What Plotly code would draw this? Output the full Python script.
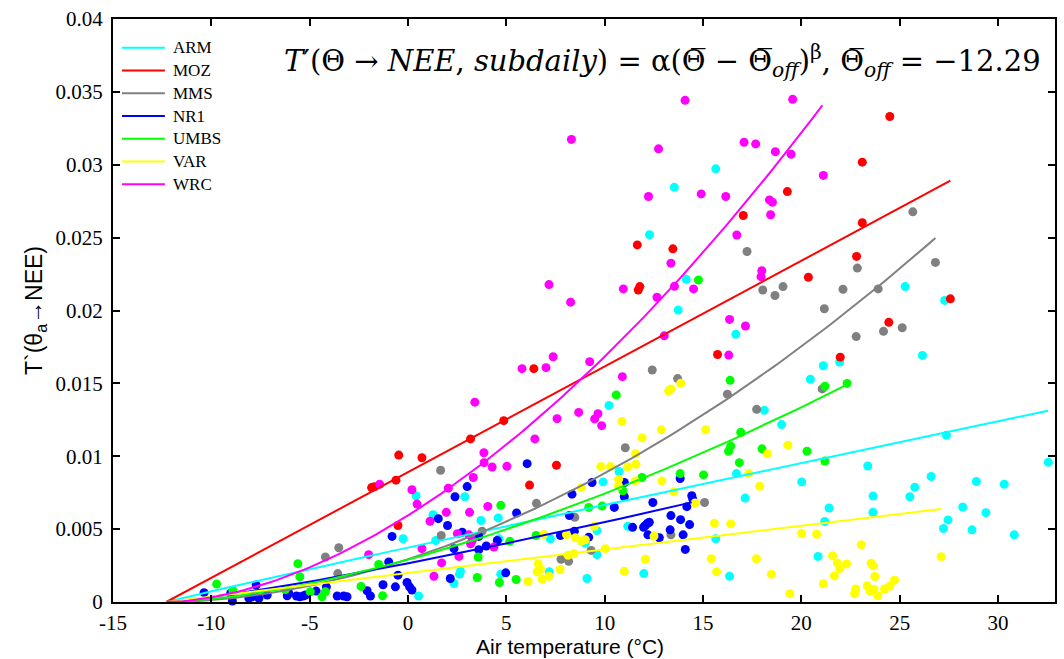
import numpy as np
import plotly.graph_objects as go

# ---------------- data ----------------
sites = ["ARM", "MOZ", "MMS", "NR1", "UMBS", "VAR", "WRC"]
colors = {"ARM": "#00FFFF", "MOZ": "#FF0000", "MMS": "#808080", "NR1": "#0000FF",
          "UMBS": "#00FF00", "VAR": "#FFFF00", "WRC": "#FF00FF"}

theta_off = -12.29

# fitted parameters T' = alpha * (theta - theta_off) ** beta, and upper temperature of each fit
alpha = {"ARM": 3.28e-4, "MOZ": 7.25e-4, "MMS": 2.83e-5, "NR1": 1.242e-4,
         "UMBS": 5.515e-5, "VAR": 1.619e-4, "WRC": 7.36e-5}
beta = {"ARM": 0.97, "MOZ": 1.0, "MMS": 1.85, "NR1": 1.22,
        "UMBS": 1.58, "VAR": 1.0, "WRC": 1.75}
t_max = {"ARM": 32.54, "MOZ": 27.58, "MMS": 26.82, "NR1": 14.43,
         "UMBS": 22.35, "VAR": 27.12, "WRC": 21.07}

# observed (air temperature, T') pairs per site
arm_t = [13.54, 12.28, 14.15, 13.74, 15.65, 25.28, 27.29, 16.67, 26.16, 21.95, 21.12, 20.46,
         18.12, 19.0, 27.38, 32.56, 23.38, 26.6, 28.9, 30.32, 25.77, 25.52, 23.65, 20.02,
         17.14, 21.41, 23.64, 28.21, 29.39, 27.46, 27.23, 28.68, 21.19, 30.83, 20.85,
         10.22, 10.73, 16.7, 9.92, 2.89, 3.71, 4.59, 1.27, 11.18, 15.65, 16.35, 9.61, 9.02,
         9.61, 7.19, 9.1, 11.99, 4.72, 2.67, 2.62, 2.34, 1.41, 4.62, 7.24, 0.41, -0.25, 0.54]
arm_v = [0.02845, 0.0252, 0.02214, 0.02003, 0.02972, 0.02164, 0.02069, 0.01837, 0.01692, 0.01646,
         0.01621, 0.01528, 0.01315, 0.01217, 0.01144, 0.00958, 0.00933, 0.00861, 0.00827, 0.00808,
         0.00788, 0.00722, 0.00727, 0.00824, 0.00713, 0.00645, 0.00615, 0.00652, 0.00613, 0.00563,
         0.00504, 0.00495, 0.00552, 0.00461, 0.00313,
         0.01349, 0.00895, 0.00881, 0.00824, 0.00722, 0.00559, 0.00577, 0.00599, 0.0052, 0.00434,
         0.00177, 0.0049, 0.00404, 0.00325, 0.00207, 0.00161, 0.00195, 0.00191, 0.00211, 0.00191,
         0.00127, 0.00422, 0.00434, 0.00434, 0.00729, 0.00434, 0.00041]

moz_t = [11.66, 13.47, 11.79, 11.71, 6.40, 24.50, 23.10, 19.29, 17.05, 23.10, 22.81, 20.36,
         27.58, 24.45, 15.74, 21.98, 4.87, 3.18, 7.55, 6.18, -0.47, 0.71, -0.61, -1.71, -1.85, -0.51]
moz_v = [0.0245, 0.02423, 0.02164, 0.02141, 0.01601, 0.03331, 0.03018, 0.02816, 0.02652, 0.02602,
         0.02371, 0.02228, 0.0208, 0.01919, 0.01698, 0.0168, 0.01244, 0.01119, 0.00938, 0.00802,
         0.01008, 0.0099, 0.00836, 0.0079, 0.00785, 0.00525]

mms_t = [12.42, 13.71, 17.24, 25.67, 26.82, 22.85, 18.04, 18.66, 19.07, 22.12, 23.91, 21.17,
         24.18, 25.13, 22.79, 17.73, 21.06, 16.24, 11.05, 1.66, 6.53, 15.08, 13.37, 9.31, 8.48,
         7.78, 8.17, 1.69, 3.77, -3.52, -4.2, -3.57]
mms_v = [0.01592, 0.01533, 0.02405, 0.02677, 0.0233, 0.02291, 0.02141, 0.02103, 0.02164, 0.02146,
         0.02148, 0.02012, 0.01857, 0.01882, 0.01821, 0.01322, 0.01462, 0.01426, 0.01058, 0.00904,
         0.00677, 0.00683, 0.00461, 0.00354, 0.00581, 0.00293, 0.00279, 0.00456, 0.00486, 0.00372,
         0.00309, 0.00195]

nr1_t = [6.06, 13.84, 11.0, 11.0, 9.36, 3.01, 2.39, 8.34, 14.43, 14.48, 14.18, 12.45, 10.49, 5.52,
         8.21, 1.54, 2.01, 13.37, 13.86, 14.32, 11.42, 12.07, 12.18, 12.27, 11.98, 13.33, 13.99,
         12.2, 12.78, 14.1, 8.46, 7.75, 9.19, 4.97, 2.15, 2.34, 3.6, 3.98, 4.54, 3.6, 2.76,
         -0.81, -0.98, -0.51, -1.27, -0.64, -2.08, -1.91, -0.05, 0.08, 0.2, -4.15, -4.67, -3.6,
         -3.27, -3.1, -5.67, -5.5, -5.33, -5.21, -6.14, -6.06, -7.16, -7.58, -8.09, -7.92, -7.83,
         -7.72, -9.02, -8.93, -10.37]
nr1_v = [0.00949, 0.00847, 0.0082, 0.00722, 0.0082, 0.00792, 0.00722, 0.0074, 0.00729, 0.00706,
         0.00654, 0.00683, 0.00649, 0.00611, 0.00593, 0.00572, 0.00525, 0.00593, 0.00565, 0.00531,
         0.00513, 0.00525, 0.0054, 0.00547, 0.00513, 0.00495, 0.00461, 0.00461, 0.00441, 0.00361,
         0.00486, 0.00456, 0.00445, 0.002, 0.00161, 0.00366, 0.00359, 0.00384, 0.00422, 0.0045,
         0.00479, 0.0045, 0.00275, 0.00184, 0.00118, 0.00104, 0.00077, 0.00041, 0.00134, 0.00104,
         0.00082, 0.00104, 0.00075, 0.00041, 0.00041, 0.00036, 0.00041, 0.00036, 0.00041, 0.00048,
         0.00043, 0.00059, 0.00048, 0.00025, 0.00025, 0.00036, 0.00048, 0.00116, 0.00059, 0.00007,
         0.00064]

umbs_t = [14.77, 16.38, 21.2, 22.33, 18.0, 20.29, 21.2, 10.59, 16.92, 16.41, 16.30, 16.85, 15.03,
          13.84, 11.9, 10.93, 9.87, 9.19, 4.72, 3.52, 5.50, 4.65, 3.57, 5.18, 6.51, -5.6, -5.5,
          -1.49, -2.39, -1.29, -4.2, -4.37, -4.97, -9.73, -8.9, -6.23]
umbs_v = [0.02209, 0.01521, 0.0148, 0.0150, 0.01051, 0.01035, 0.00967, 0.01421, 0.01165, 0.01069,
          0.01035, 0.00956, 0.00872, 0.00881, 0.00854, 0.00763, 0.00658, 0.00649, 0.00663, 0.00168,
          0.00154, 0.00134, 0.00309, 0.00416, 0.00456, 0.00263, 0.00173, 0.00257, 0.00107, 0.00043,
          0.0007, 0.00036, 0.0007, 0.00123, 0.00077, 0.00086]

var_t = [13.87, 13.25, 13.37, 18.27, 19.32, 17.33, 17.89, 20.02, 20.78, 23.05, 27.11, 17.72, 21.59,
         21.83, 21.96, 22.30, 23.55, 23.67, 18.48, 21.68, 21.12, 23.74, 19.42, 22.77, 22.71, 23.35,
         23.5, 23.69, 23.89, 24.23, 24.5, 24.74, 10.88, 12.88, 11.9, 15.14, 11.57, 11.59, 11.17,
         9.8, 10.3, 12.91, 11.56, 10.71, 10.71, 8.82, 13.52, 14.6, 12.51, 15.58, 16.41, 15.42,
         15.69, 9.48, 8.06, 8.51, 8.82, 9.02, 10.03, 8.14, 8.43, 7.73, 6.62, 6.57, 6.74, 7.16,
         6.82, 6.11, 11.0, 12.07, 6.91]
var_v = [0.01501, 0.01449, 0.01462, 0.01017, 0.01076, 0.00881, 0.00795, 0.0047, 0.00465, 0.00393,
         0.00311, 0.00297, 0.00318, 0.00268, 0.00229, 0.00261, 0.00266, 0.00248, 0.00191, 0.00179,
         0.00125, 0.00175, 0.00057, 0.00089, 0.00057, 0.00111, 0.00075, 0.00086, 0.00043, 0.00089,
         0.00109, 0.0015, 0.01238, 0.01181, 0.01126, 0.01181, 0.01017, 0.00945, 0.00926, 0.00929,
         0.00929, 0.00831, 0.00831, 0.00842, 0.00797, 0.00786, 0.00756, 0.00679, 0.00452, 0.0054,
         0.00536, 0.00297, 0.00207, 0.0052, 0.00463, 0.0044, 0.00418, 0.00427, 0.00366, 0.0032,
         0.00332, 0.00223, 0.00263, 0.00207, 0.00223, 0.00177, 0.00157, 0.00141, 0.00211, 0.00293,
         0.00463]

wrc_t = [14.09, 8.31, 12.74, 12.23, 14.91, 13.37, 7.17, 10.95, 13.55, 14.52, 8.27, 12.66, 13.03,
         7.38, 9.24, 5.80, 7.02, 10.90, 19.56, 17.09, 17.68, 18.68, 19.48, 21.12, 16.16, 18.38,
         18.53, 18.44, 16.72, 17.99, 17.95, 16.35, 17.16, 16.31, 3.40, 7.58, 8.68, 9.66, 9.49,
         9.85, 6.45, 3.86, 3.87, 4.28, 5.03, 3.32, 2.05, 4.06, 3.13, 1.95, 1.12, 1.32, 1.71, 2.59,
         2.51, 3.1, 3.27, 3.18, 4.37, -1.44, 0.2, 0.46, -2.0, 0.71]
wrc_v = [0.03442, 0.03174, 0.03109, 0.02782, 0.028, 0.02325, 0.02178, 0.02148, 0.02166, 0.02148,
         0.02057, 0.02091, 0.01826, 0.01683, 0.01649, 0.01601, 0.01608, 0.01546, 0.03449, 0.03154,
         0.03143, 0.0309, 0.03072, 0.02927, 0.02782, 0.02759, 0.02743, 0.02657, 0.02518, 0.02273,
         0.02232, 0.01939, 0.01894, 0.01694, 0.01371, 0.01258, 0.01301, 0.01292, 0.01256, 0.0121,
         0.01119, 0.01024, 0.00956, 0.00926, 0.00931, 0.00854, 0.00781, 0.00656, 0.00615, 0.00615,
         0.00554, 0.00177, 0.00268, 0.00313, 0.00468, 0.00461, 0.00422, 0.004, 0.00377, 0.00808,
         0.0077, 0.00672, 0.00325, 0.00366]

observations = {"ARM": (arm_t, arm_v), "MOZ": (moz_t, moz_v), "MMS": (mms_t, mms_v),
                "NR1": (nr1_t, nr1_v), "UMBS": (umbs_t, umbs_v), "VAR": (var_t, var_v),
                "WRC": (wrc_t, wrc_v)}

x_ticks = [-15, -10, -5, 0, 5, 10, 15, 20, 25, 30]
x_tick_text = ["-15", "-10", "-5", "0", "5", "10", "15", "20", "25", "30"]
y_ticks = [0, 0.005, 0.01, 0.015, 0.02, 0.025, 0.03, 0.035, 0.04]
y_tick_text = ["0", "0.005", "0.01", "0.015", "0.02", "0.025", "0.03", "0.035", "0.04"]

# ---------------- figure ----------------
fig = go.Figure()

for s in sites:
    t, v = observations[s]
    fig.add_trace(go.Scatter(x=t, y=v, mode="markers", showlegend=False,
                             marker=dict(color=colors[s], size=9, line=dict(width=0)),
                             cliponaxis=False, hoverinfo="x+y"))

for s in sites:
    tt = np.linspace(theta_off, t_max[s], 120)
    fit = alpha[s] * (tt - theta_off) ** beta[s]
    fig.add_trace(go.Scatter(x=tt, y=fit, mode="lines", name=s, showlegend=False,
                             line=dict(color=colors[s], width=2)))

# legend: short line sample + site name, stacked in the upper-left corner
plot_w, plot_h = 944.0, 587.0
leg_top, leg_step = 44.0, 22.9
for i, s in enumerate(sites):
    yp = 1 - (leg_top - 15 + i * leg_step) / plot_h
    fig.add_shape(type="line", xref="paper", yref="paper",
                  x0=9 / plot_w, x1=52 / plot_w, y0=yp, y1=yp,
                  line=dict(color=colors[s], width=2))
    fig.add_annotation(text=s, xref="paper", yref="paper", x=58 / plot_w, y=yp,
                       xanchor="left", yanchor="middle", showarrow=False,
                       font=dict(family="Liberation Serif", size=17, color="black"))

formula = ("<i>T</i>′(Θ → <i>NEE</i>, <i>subdaily</i>) = α(Θ̅ − Θ̅<sub><i>off</i></sub>)"
           "<sup>β</sup>, Θ̅<sub><i>off</i></sub> = −12.29")
fig.add_annotation(text=formula, xref="paper", yref="paper", x=0.179, y=0.928,
                   xanchor="left", yanchor="middle", showarrow=False,
                   font=dict(family="DejaVu Serif", size=29, color="black"))

fig.add_annotation(text="Air temperature (°C)", xref="paper", yref="paper",
                   x=(571 - 113) / plot_w, y=-45 / plot_h, xanchor="center", yanchor="middle",
                   showarrow=False, borderpad=0,
                   font=dict(family="Liberation Sans", size=21, color="black"))

axis_common = dict(showline=True, linecolor="black", linewidth=2, mirror="ticks",
                   ticks="inside", ticklen=7, tickwidth=1.5, tickcolor="black",
                   showgrid=False, zeroline=False,
                   tickfont=dict(family="Liberation Serif", size=21, color="black"))

fig.update_xaxes(range=[-15, 32.9], tickvals=x_ticks, ticktext=x_tick_text,
                 ticklabelstandoff=1, **axis_common)
fig.update_yaxes(range=[0, 0.04], tickvals=y_ticks, ticktext=y_tick_text,
                 ticklabelstandoff=4,
                 title=dict(text="T`(θ<sub>a</sub>→NEE)", standoff=6,
                            font=dict(family="Liberation Sans", size=23, color="black")),
                 **axis_common)

fig.update_layout(
    width=1064, height=659,
    margin=dict(l=113, r=7, t=15, b=57),
    plot_bgcolor="white", paper_bgcolor="white",
    showlegend=False,
)

fig.write_html("out.html")
